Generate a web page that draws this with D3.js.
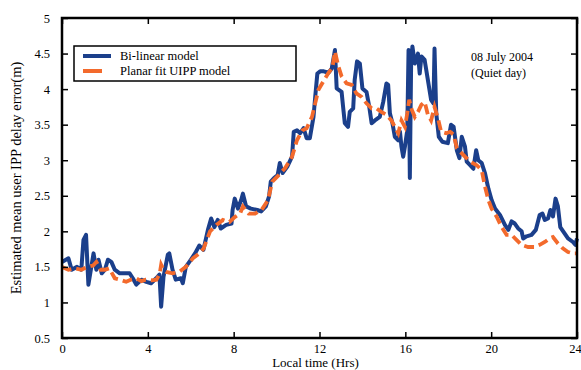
<!DOCTYPE html>
<meta charset="utf-8">
<style>
body { margin: 0; background: #fff; }
.chart text { font-family: "Liberation Serif", "Times New Roman", serif; fill: #000; }
.chart .frame { fill: none; stroke: #000; stroke-width: 2.5; }
.chart .tick line { stroke: #000; stroke-width: 1.5; }
.chart .domain { display: none; }
</style>
<body>
<svg class="chart js-chart"></svg>
<script src="https://cdn.jsdelivr.net/npm/d3@7"></script>
<script>
"use strict";

var xTicks = [0, 4, 8, 12, 16, 20, 24];
var yTicks = [0.5, 1, 1.5, 2, 2.5, 3, 3.5, 4, 4.5, 5];
var seriesNames = ["Bi-linear model", "Planar fit UIPP model"];

var bilinearHours = [0, 0.3, 0.45, 0.7, 0.9, 1.0, 1.12, 1.23, 1.47, 1.6, 1.7, 1.85, 2.0, 2.14, 2.3, 2.46, 2.69, 2.92, 3.15, 3.3,
  3.46, 3.7, 3.93, 4.15, 4.39, 4.54, 4.62, 4.73, 4.93, 5.0, 5.15, 5.3, 5.54, 5.63, 5.77, 6.0, 6.2, 6.4, 6.59, 6.8,
  6.95, 7.1, 7.26, 7.4, 7.65, 7.9, 7.95, 8.05, 8.2, 8.35, 8.43, 8.58, 8.8, 9.1, 9.28, 9.5, 9.65, 9.73, 9.88, 10.05,
  10.15, 10.28, 10.5, 10.72, 10.8, 10.95, 11.1, 11.26, 11.4, 11.55, 11.72, 11.8, 11.9, 12.03, 12.2, 12.42, 12.57, 12.72, 12.8, 13.03,
  13.1, 13.18, 13.33, 13.41, 13.57, 13.64, 13.75, 13.88, 14.0, 14.19, 14.32, 14.43, 14.58, 14.81, 14.97, 15.12, 15.2, 15.28, 15.4, 15.51,
  15.67, 15.75, 15.82, 15.9, 15.98, 16.09, 16.15, 16.21, 16.27, 16.33, 16.44, 16.59, 16.67, 16.75, 16.9, 17.05, 17.2, 17.31, 17.36, 17.44,
  17.56, 17.72, 17.98, 18.13, 18.25, 18.4, 18.52, 18.63, 18.78, 18.86, 19.02, 19.17, 19.3, 19.4, 19.56, 19.71, 19.87, 20.02, 20.18, 20.41,
  20.64, 20.8, 20.95, 21.1, 21.26, 21.42, 21.49, 21.65, 21.88, 22.08, 22.26, 22.39, 22.5, 22.65, 22.76, 22.88, 23.0, 23.11, 23.22, 23.42,
  23.58, 23.81, 23.93, 24];
var bilinearValues = [1.57, 1.62, 1.46, 1.50, 1.46, 1.88, 1.95, 1.25, 1.69, 1.46, 1.60, 1.41, 1.46, 1.60, 1.57, 1.46, 1.41, 1.41, 1.41, 1.34,
  1.25, 1.32, 1.29, 1.27, 1.34, 1.39, 0.94, 1.36, 1.67, 1.69, 1.46, 1.32, 1.34, 1.27, 1.50, 1.60, 1.69, 1.80, 1.74, 2.02,
  2.18, 2.06, 2.16, 2.04, 2.09, 2.11, 2.30, 2.46, 2.32, 2.44, 2.53, 2.35, 2.32, 2.30, 2.28, 2.35, 2.49, 2.70, 2.75, 2.79,
  2.96, 2.82, 2.91, 3.05, 3.40, 3.42, 3.38, 3.45, 3.31, 3.31, 3.61, 3.89, 4.22, 4.25, 4.25, 4.23, 4.29, 4.55, 4.01, 3.96,
  3.75, 3.52, 3.47, 3.68, 3.73, 4.13, 4.39, 4.36, 4.01, 3.96, 3.75, 3.52, 3.56, 3.61, 3.82, 4.08, 4.06, 3.66, 3.52, 3.33,
  3.28, 3.40, 3.19, 3.05, 3.19, 3.42, 4.55, 2.75, 4.36, 4.60, 4.36, 4.50, 4.22, 4.46, 4.41, 4.13, 3.85, 3.80, 4.57, 3.66,
  3.33, 3.26, 3.24, 3.50, 3.47, 3.14, 3.03, 3.33, 3.19, 2.98, 2.93, 2.88, 3.14, 3.00, 2.96, 2.82, 2.60, 2.44, 2.32, 2.23,
  2.09, 2.02, 2.14, 2.11, 2.04, 2.00, 1.90, 1.93, 1.95, 2.02, 2.23, 2.25, 2.16, 2.18, 2.30, 2.21, 2.46, 2.35, 2.06, 1.97,
  1.90, 1.85, 1.81, 1.90];

var planarHours = [0, 0.3, 0.6, 0.9, 1.2, 1.45, 1.6, 1.8, 2.0, 2.2, 2.46, 2.7, 2.99, 3.2, 3.46, 3.7, 3.9, 4.2, 4.4, 4.55,
  4.62, 4.75, 4.85, 5.15, 5.46, 5.77, 6.1, 6.4, 6.6, 6.9, 7.2, 7.5, 7.8, 8.05, 8.3, 8.43, 8.7, 9.0, 9.3, 9.6,
  9.8, 10.1, 10.4, 10.72, 10.95, 11.2, 11.4, 11.65, 11.8, 11.95, 12.2, 12.42, 12.6, 12.72, 12.88, 13.03, 13.26, 13.5, 13.72, 13.96,
  14.19, 14.43, 14.65, 14.88, 15.12, 15.35, 15.51, 15.67, 15.82, 15.98, 16.09, 16.18, 16.3, 16.44, 16.59, 16.75, 16.9, 17.05, 17.2, 17.36,
  17.52, 17.67, 17.9, 18.09, 18.25, 18.4, 18.78, 19.02, 19.33, 19.56, 19.71, 19.87, 20.02, 20.25, 20.49, 20.72, 20.95, 21.18, 21.42, 21.72,
  22.03, 22.26, 22.5, 22.72, 22.88, 23.11, 23.34, 23.58, 23.81, 24];
var planarValues = [1.50, 1.46, 1.48, 1.46, 1.50, 1.52, 1.57, 1.46, 1.46, 1.48, 1.34, 1.32, 1.29, 1.32, 1.34, 1.30, 1.32, 1.31, 1.32, 1.40,
  1.53, 1.45, 1.43, 1.41, 1.43, 1.50, 1.62, 1.69, 1.76, 2.00, 2.09, 2.16, 2.13, 2.20, 2.25, 2.35, 2.25, 2.25, 2.30, 2.44,
  2.70, 2.79, 2.89, 3.05, 3.28, 3.42, 3.45, 3.61, 3.80, 3.99, 4.12, 4.23, 4.30, 4.53, 4.32, 4.18, 4.08, 4.06, 3.94, 3.89,
  3.80, 3.73, 3.73, 3.68, 3.64, 3.56, 3.47, 3.38, 3.56, 3.47, 3.66, 3.85, 3.71, 3.61, 3.68, 3.78, 3.82, 3.64, 3.56, 3.75,
  3.59, 3.40, 3.38, 3.40, 3.36, 3.17, 3.05, 2.98, 2.93, 2.86, 2.63, 2.44, 2.32, 2.21, 2.06, 1.95, 1.95, 1.88, 1.81, 1.78,
  1.78, 1.81, 1.85, 1.90, 1.92, 1.83, 1.76, 1.71, 1.69, 1.69];

var margin = { top: 18, right: 4, bottom: 32, left: 62 },
    containerWidth = 581,
    containerHeight = 370,
    width = containerWidth - margin.left - margin.right,
    height = containerHeight - margin.top - margin.bottom,
    blue = "#1b3f8b",
    orange = "#f36a2c";

var svg = d3.select(".js-chart")
    .attr("width", containerWidth)
    .attr("height", containerHeight);

var g = svg.append("g")
    .attr("transform", "translate(" + margin.left + "," + margin.top + ")");

var x = d3.scaleLinear().domain([0, 24]).range([0, width]);
var y = d3.scaleLinear().domain([0.5, 5]).range([height, 0]);

function zip(hours, values) {
    return hours.map(function(h, i) { return [h, values[i]]; });
}

var line = d3.line()
    .x(function(d) { return x(d[0]); })
    .y(function(d) { return y(d[1]); });

g.append("path")
    .datum(zip(bilinearHours, bilinearValues))
    .attr("fill", "none")
    .attr("stroke", blue)
    .attr("stroke-width", 4)
    .attr("stroke-linejoin", "round")
    .attr("d", line);

g.append("path")
    .datum(zip(planarHours, planarValues))
    .attr("fill", "none")
    .attr("stroke", orange)
    .attr("stroke-width", 3.8)
    .attr("stroke-dasharray", "10,5")
    .attr("d", line);

// axes, ticks pointing inward on all four sides
var xAxisG = g.append("g")
    .attr("transform", "translate(0," + height + ")")
    .call(d3.axisBottom(x).tickValues(xTicks).tickSizeInner(-6).tickSizeOuter(0).tickPadding(6));
xAxisG.selectAll("text").style("font-size", "12.5px");
xAxisG.selectAll(".tick:last-of-type text").attr("dx", "-2");

g.append("g")
    .call(d3.axisTop(x).tickValues(xTicks).tickSizeInner(-6).tickSizeOuter(0).tickFormat(""));

g.append("g")
    .call(d3.axisLeft(y).tickValues(yTicks).tickSizeInner(-6).tickSizeOuter(0).tickPadding(12).tickFormat(d3.format("")))
    .selectAll("text").style("font-size", "12.5px");

g.append("g")
    .attr("transform", "translate(" + width + ",0)")
    .call(d3.axisRight(y).tickValues(yTicks).tickSizeInner(-6).tickSizeOuter(0).tickFormat(""));

g.append("rect")
    .attr("class", "frame")
    .attr("width", width)
    .attr("height", height);

svg.append("text")
    .attr("x", margin.left + width / 2 - 4)
    .attr("y", 367)
    .attr("text-anchor", "middle")
    .style("font-size", "13px")
    .text("Local time (Hrs)");

svg.append("text")
    .attr("transform", "translate(21," + (margin.top + height / 2) + ") rotate(-90)")
    .attr("text-anchor", "middle")
    .style("font-size", "14.5px")
    .text("Estimated mean user IPP delay error(m)");

// legend
var legend = svg.append("g");
legend.append("rect")
    .attr("x", 74).attr("y", 46)
    .attr("width", 222).attr("height", 35)
    .attr("fill", "#fff").attr("stroke", "#000").attr("stroke-width", 1.5);

var legendColors = [blue, orange];
var legendLengths = [28, 19];
seriesNames.forEach(function(name, i) {
    var ly = 56 + i * 15;
    legend.append("line")
        .attr("x1", 83).attr("x2", 83 + legendLengths[i])
        .attr("y1", ly).attr("y2", ly)
        .attr("stroke", legendColors[i]).attr("stroke-width", 4);
    legend.append("text")
        .attr("x", 120).attr("y", ly + 4)
        .style("font-size", "12.5px")
        .text(name);
});

svg.append("text")
    .attr("x", 471).attr("y", 61)
    .style("font-size", "12px")
    .text("08 July 2004");
svg.append("text")
    .attr("x", 471).attr("y", 77)
    .style("font-size", "12px")
    .text("(Quiet day)");

</script>
</body>
